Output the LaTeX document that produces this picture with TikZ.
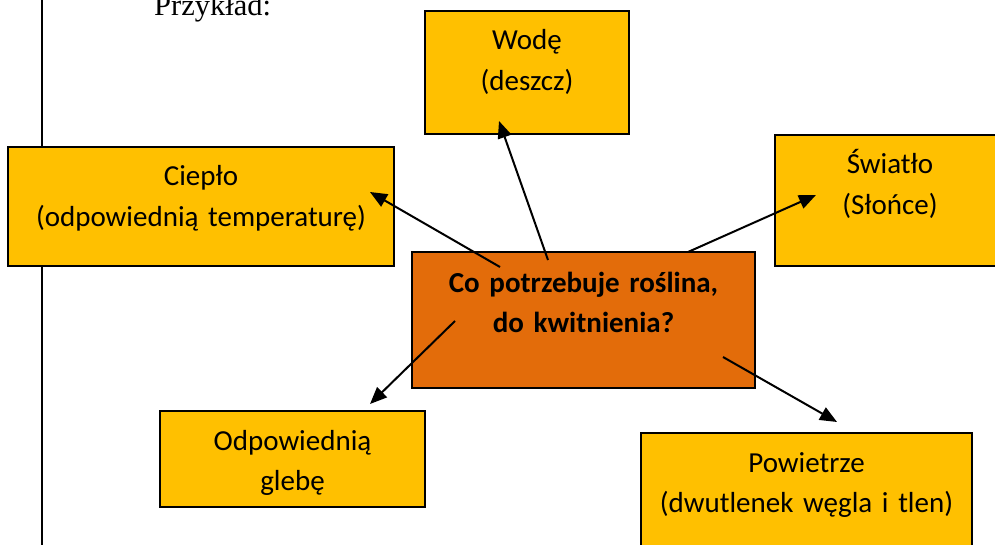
\documentclass[tikz,border=0pt]{standalone}
\usepackage{fontspec}
\setmainfont{Carlito}
\newfontfamily\timesfont{Liberation Serif}
\usetikzlibrary{positioning, arrows.meta}
\definecolor{zolty}{HTML}{FFC000}
\definecolor{pomarancz}{HTML}{E36C0A}

\tikzset{
  pole/.style={draw=black, line width=2pt, fill=zolty, inner sep=0pt, outer sep=0pt, align=center, text height=39pt, font=\fontsize{29}{40.5}\selectfont},
  strzalka/.style={line width=2pt, -{Stealth[length=17pt, width=14pt, inset=0pt]}}
}

\begin{document}
\begin{tikzpicture}[x=1pt, y=-1pt]
            \useasboundingbox (0,0) rectangle (995,545);
            \clip (0,0) rectangle (995,545);
            \draw[line width=2pt] (42,0) -- (42,545);
            \node[anchor=base west, inner sep=0pt, font=\timesfont\fontsize{30.5}{36}\selectfont] (przyklad) at (154,16) {Przykład:};

            \node[pole, anchor=north west, text width=204pt, text depth=84pt] (woda) at (425,11) {Wodę\\(deszcz)};
            \node[pole, anchor=north west, text width=386pt, text depth=80pt] (cieplo) at (8,147) {Ciepło\\(odpowiednią temperaturę)};
            \node[pole, anchor=north west, text width=230pt, text depth=92pt] (swiatlo) at (775,135) {Światło\\(Słońce)};
            \node[pole, anchor=north west, text width=265pt, text depth=57pt] (gleba) at (160,411) {Odpowiednią\\glebę};
            \node[pole, anchor=north west, text width=331pt, text depth=88pt] (powietrze) at (641,433) {Powietrze\\(dwutlenek węgla i tlen)};
            \node[pole, anchor=north west, fill=pomarancz, text width=343pt, text height=40pt, text depth=96pt, font=\bfseries\fontsize{29}{40.5}\selectfont] (roslina) at (412,252) {Co potrzebuje roślina,\\do kwitnienia?};

            \coordinate (w1) at (548,260);
            \coordinate (w2) at (499,121);
            \coordinate (c1) at (500,267);
            \coordinate (c2) at (370,192);
            \coordinate (s1) at (688,252);
            \coordinate (s2) at (816,195);
            \coordinate (g1) at (455,321);
            \coordinate (g2) at (370,404);
            \coordinate (p1) at (723,357);
            \coordinate (p2) at (837,422);

            \draw[strzalka] (w1) -- (w2);
            \draw[strzalka] (c1) -- (c2);
            \draw[strzalka] (s1) -- (s2);
            \draw[strzalka] (g1) -- (g2);
            \draw[strzalka] (p1) -- (p2);
        \end{tikzpicture}
\end{document}
